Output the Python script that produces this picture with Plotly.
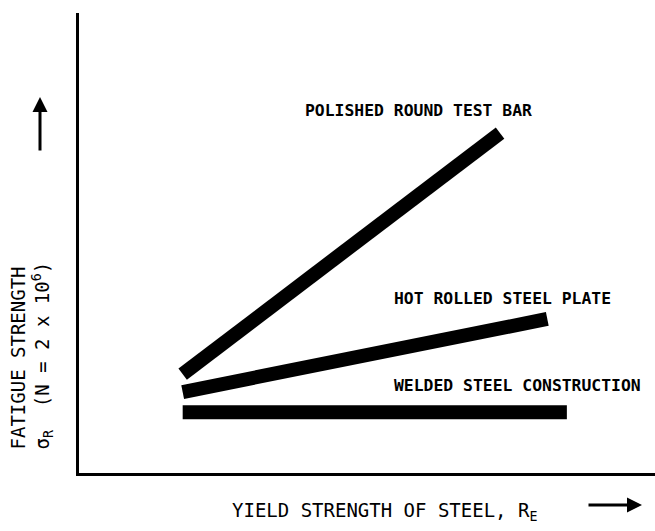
import plotly.graph_objects as go

# ---- data (arbitrary units) ----
series_names = ["POLISHED ROUND TEST BAR", "HOT ROLLED STEEL PLATE", "WELDED STEEL CONSTRUCTION"]
polished_x = [18.0, 73.1]
polished_y = [21.5, 73.9]
hot_rolled_x = [18.0, 81.3]
hot_rolled_y = [17.6, 33.5]
welded_x = [18.0, 84.7]
welded_y = [13.2, 13.2]

label_x = [38.9, 54.3, 54.3]
label_y = [78.9, 38.0, 19.1]

x_title = "YIELD STRENGTH OF STEEL, R<sub>E</sub>"
y_title = "FATIGUE STRENGTH<br>σ<sub>R</sub>  (N = 2 x 10<sup>6</sup>)"

W, H = 655, 531
L, R, T, B = 79, 0, 13, 58
pw, ph = W - L - R, H - T - B

def px(xp):
    return (xp - L) / pw

def py(yp):
    return (H - B - yp) / ph

fig = go.Figure()
for xs, ys, name in [(polished_x, polished_y, series_names[0]),
                     (hot_rolled_x, hot_rolled_y, series_names[1]),
                     (welded_x, welded_y, series_names[2])]:
    fig.add_trace(go.Scatter(x=xs, y=ys, mode="lines", name=name,
                             line=dict(color="black", width=14), showlegend=False,
                             hoverinfo="skip"))

label_font = dict(family="DejaVu Sans Mono, Liberation Mono, monospace",
                  size=16.4, color="black", weight="bold")
for name, lx, ly in zip(series_names, label_x, label_y):
    fig.add_annotation(x=lx, y=ly, xref="x", yref="y", text=name, showarrow=False,
                       xanchor="left", yanchor="middle", font=label_font)

mono = dict(family="DejaVu Sans Mono, Liberation Mono, monospace", size=19, color="black")

# x-axis title
fig.add_annotation(xref="paper", yref="paper", x=px(384), y=py(511), text=x_title,
                   showarrow=False, xanchor="center", yanchor="middle", font=mono)
# y-axis title
fig.add_annotation(xref="paper", yref="paper", x=px(31.5), y=py(356), text=y_title,
                   showarrow=False, xanchor="center", yanchor="middle", textangle=-90,
                   align="left", font=mono)
# arrows
fig.add_annotation(xref="paper", yref="paper", x=px(40), y=py(97), ax=0, ay=55,
                   text="", showarrow=True, arrowhead=2, arrowwidth=3, arrowsize=1,
                   arrowcolor="black")
fig.add_annotation(xref="paper", yref="paper", x=px(642), y=py(505), ax=-55, ay=0,
                   text="", showarrow=True, arrowhead=2, arrowwidth=3, arrowsize=1,
                   arrowcolor="black")

fig.update_xaxes(range=[0, 100], showgrid=False, zeroline=False, showticklabels=False,
                 ticks="", showline=True, linecolor="black", linewidth=3)
fig.update_yaxes(range=[0, 100], showgrid=False, zeroline=False, showticklabels=False,
                 ticks="", showline=True, linecolor="black", linewidth=3)
fig.update_layout(width=W, height=H, margin=dict(l=L, r=R, t=T, b=B),
                  paper_bgcolor="white", plot_bgcolor="white")

fig.write_html("out.html", config={"displayModeBar": False},
               post_script="document.body.style.margin='0px';document.body.style.overflow='hidden';")
